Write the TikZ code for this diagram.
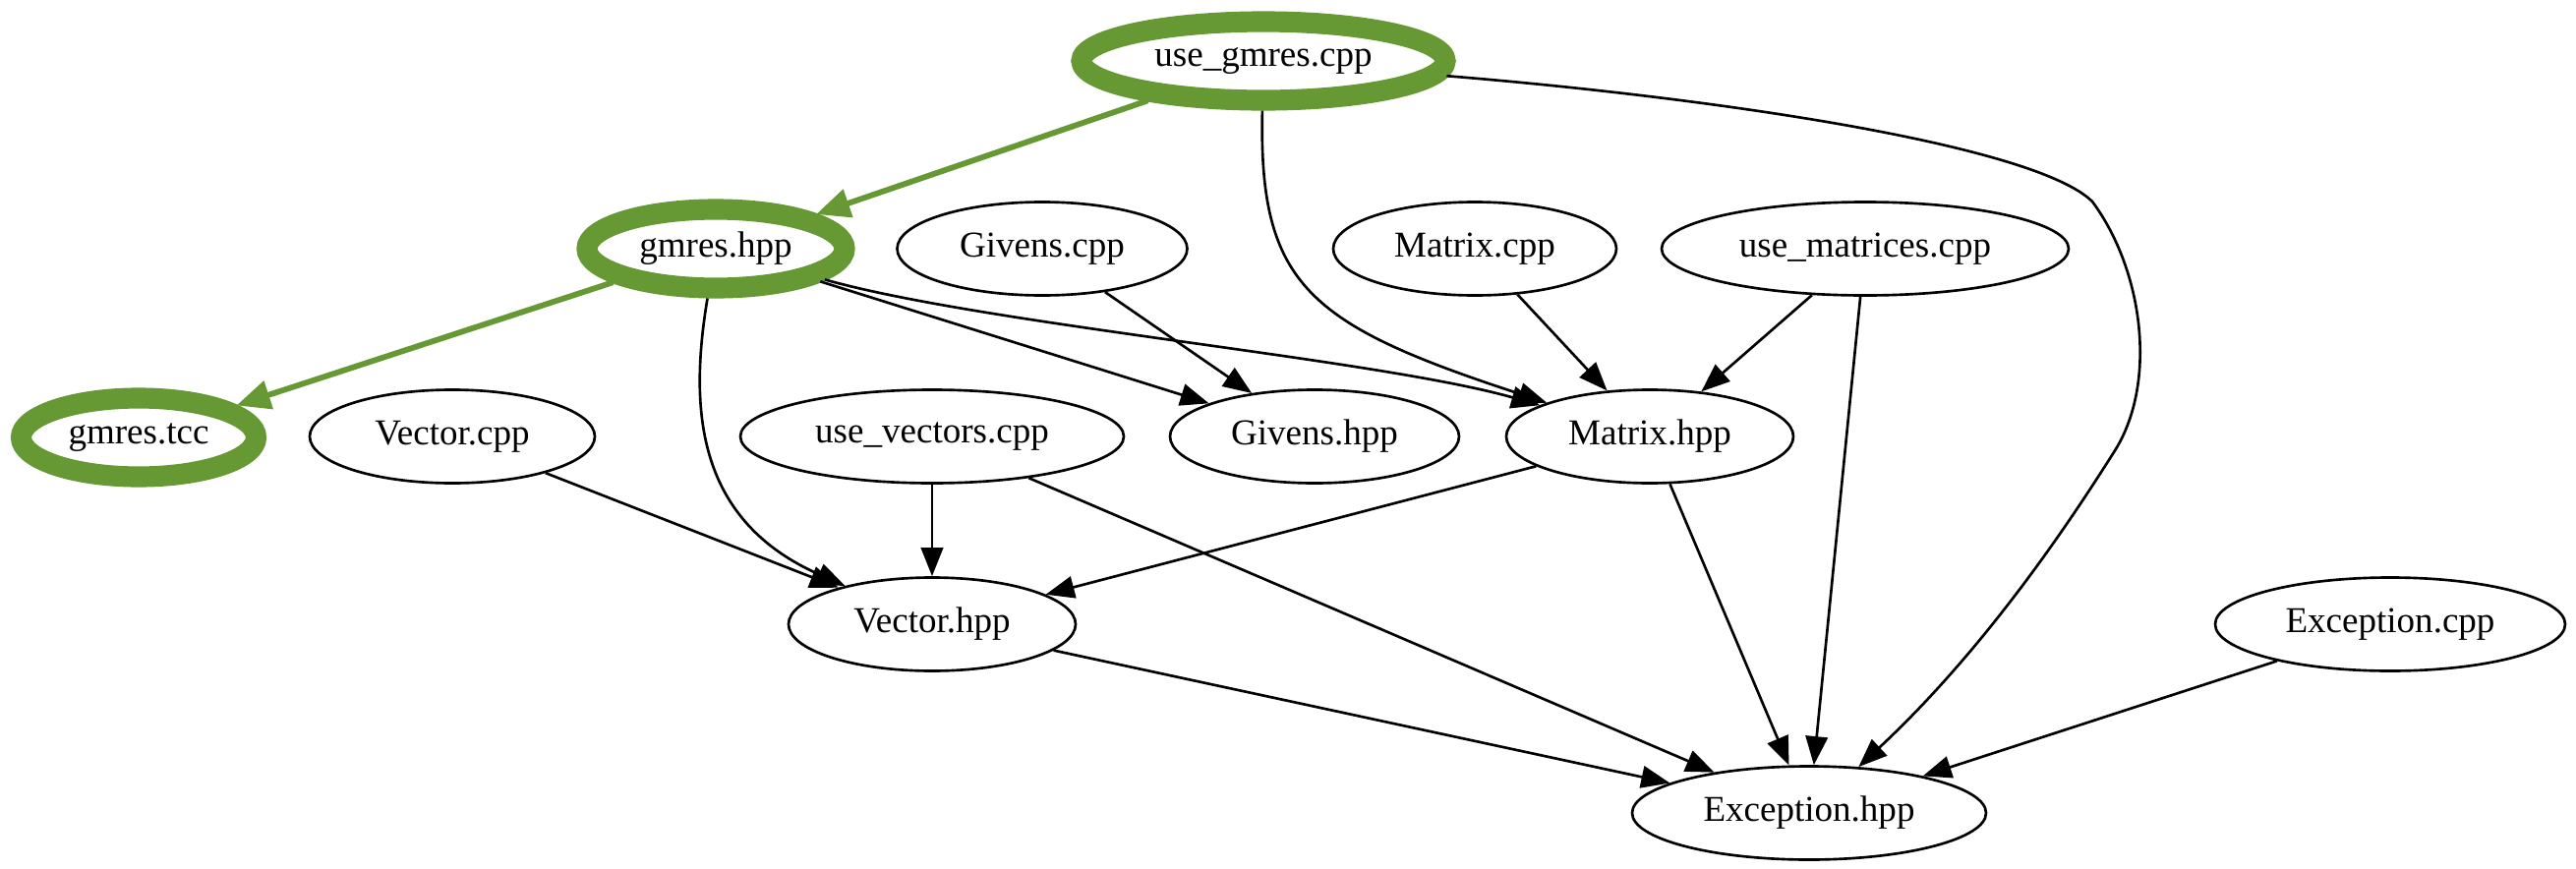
\documentclass[tikz,border=0pt]{standalone}
\usepackage{fontspec}
\setmainfont{Liberation Serif}
\usetikzlibrary{arrows.meta,shapes.geometric}
\definecolor{leaf}{RGB}{102,153,51}
\newdimen\pxu
\pxu=0.378pt

\begin{document}
\begin{tikzpicture}[x = \pxu, y = -\pxu, file/.style = {draw, ellipse, line width = 1pt, inner sep = 0pt, minimum height = 95\pxu, font = \fontsize{14pt}{16pt}\selectfont}, hot/.style = {file, draw = leaf, line width = 8pt, minimum height = 80\pxu}, dep/.style = {->, line width = 1pt}, hotdep/.style = {-{Triangle[length = 13pt, width = 11pt]}, color = leaf, line width = 2.2pt}, >={Triangle[length = 11pt, width = 8.5pt]}]
					\useasboundingbox (0,0) rectangle (2620,884);
					\node[hot, minimum width = 370\pxu] (UG) at (1285,62) {use\_gmres.cpp};
					\node[hot, minimum width = 262\pxu] (GH) at (728,253) {gmres.hpp};
					\node[hot, minimum width = 239\pxu] (GT) at (141,445) {gmres.tcc};
					\node[file, minimum width = 295\pxu] (GC) at (1060,253) {Givens.cpp};
					\node[file, minimum width = 288\pxu] (MC) at (1500,253) {Matrix.cpp};
					\node[file, minimum width = 414\pxu] (UM) at (1897,253) {use\_matrices.cpp};
					\node[file, minimum width = 290\pxu] (VC) at (460,444) {Vector.cpp};
					\node[file, minimum width = 390\pxu] (UV) at (948,444) {use\_vectors.cpp};
					\node[file, minimum width = 294\pxu] (GV) at (1337,444) {Givens.hpp};
					\node[file, minimum width = 292\pxu] (MH) at (1678,444) {Matrix.hpp};
					\node[file, minimum width = 292\pxu] (VH) at (948,635) {Vector.hpp};
					\node[file, minimum width = 356\pxu] (EC) at (2431,635) {Exception.cpp};
					\node[file, minimum width = 360\pxu] (EH) at (1840,827) {Exception.hpp};
					\draw[hotdep] (UG) edge (GH) (GH) edge (GT);
					\draw[dep] (GH) edge (GV) (GC) edge (GV) (MC) edge (MH) (UM) edge (MH) (UM) edge (EH);
					\draw[dep] (VC) edge (VH) (UV) edge (VH) (UV) edge (EH) (MH) edge (VH) (MH) edge (EH) (VH) edge (EH) (EC) edge (EH);
					\draw[dep] (GH) .. controls (700,420) and (710,530) .. (VH);
					\draw[dep] (GH) .. controls (1000,330) and (1400,365) .. (MH);
					\draw[dep] (UG) .. controls (1280,290) and (1330,330) .. (MH);
					\draw[dep] (UG) .. controls (1750,100) and (2070,148) .. (2128,205) .. controls (2180,275) and (2195,390) .. (2150,460) .. controls (2120,507) and (2030,650) .. (EH);
				\end{tikzpicture}
\end{document}
